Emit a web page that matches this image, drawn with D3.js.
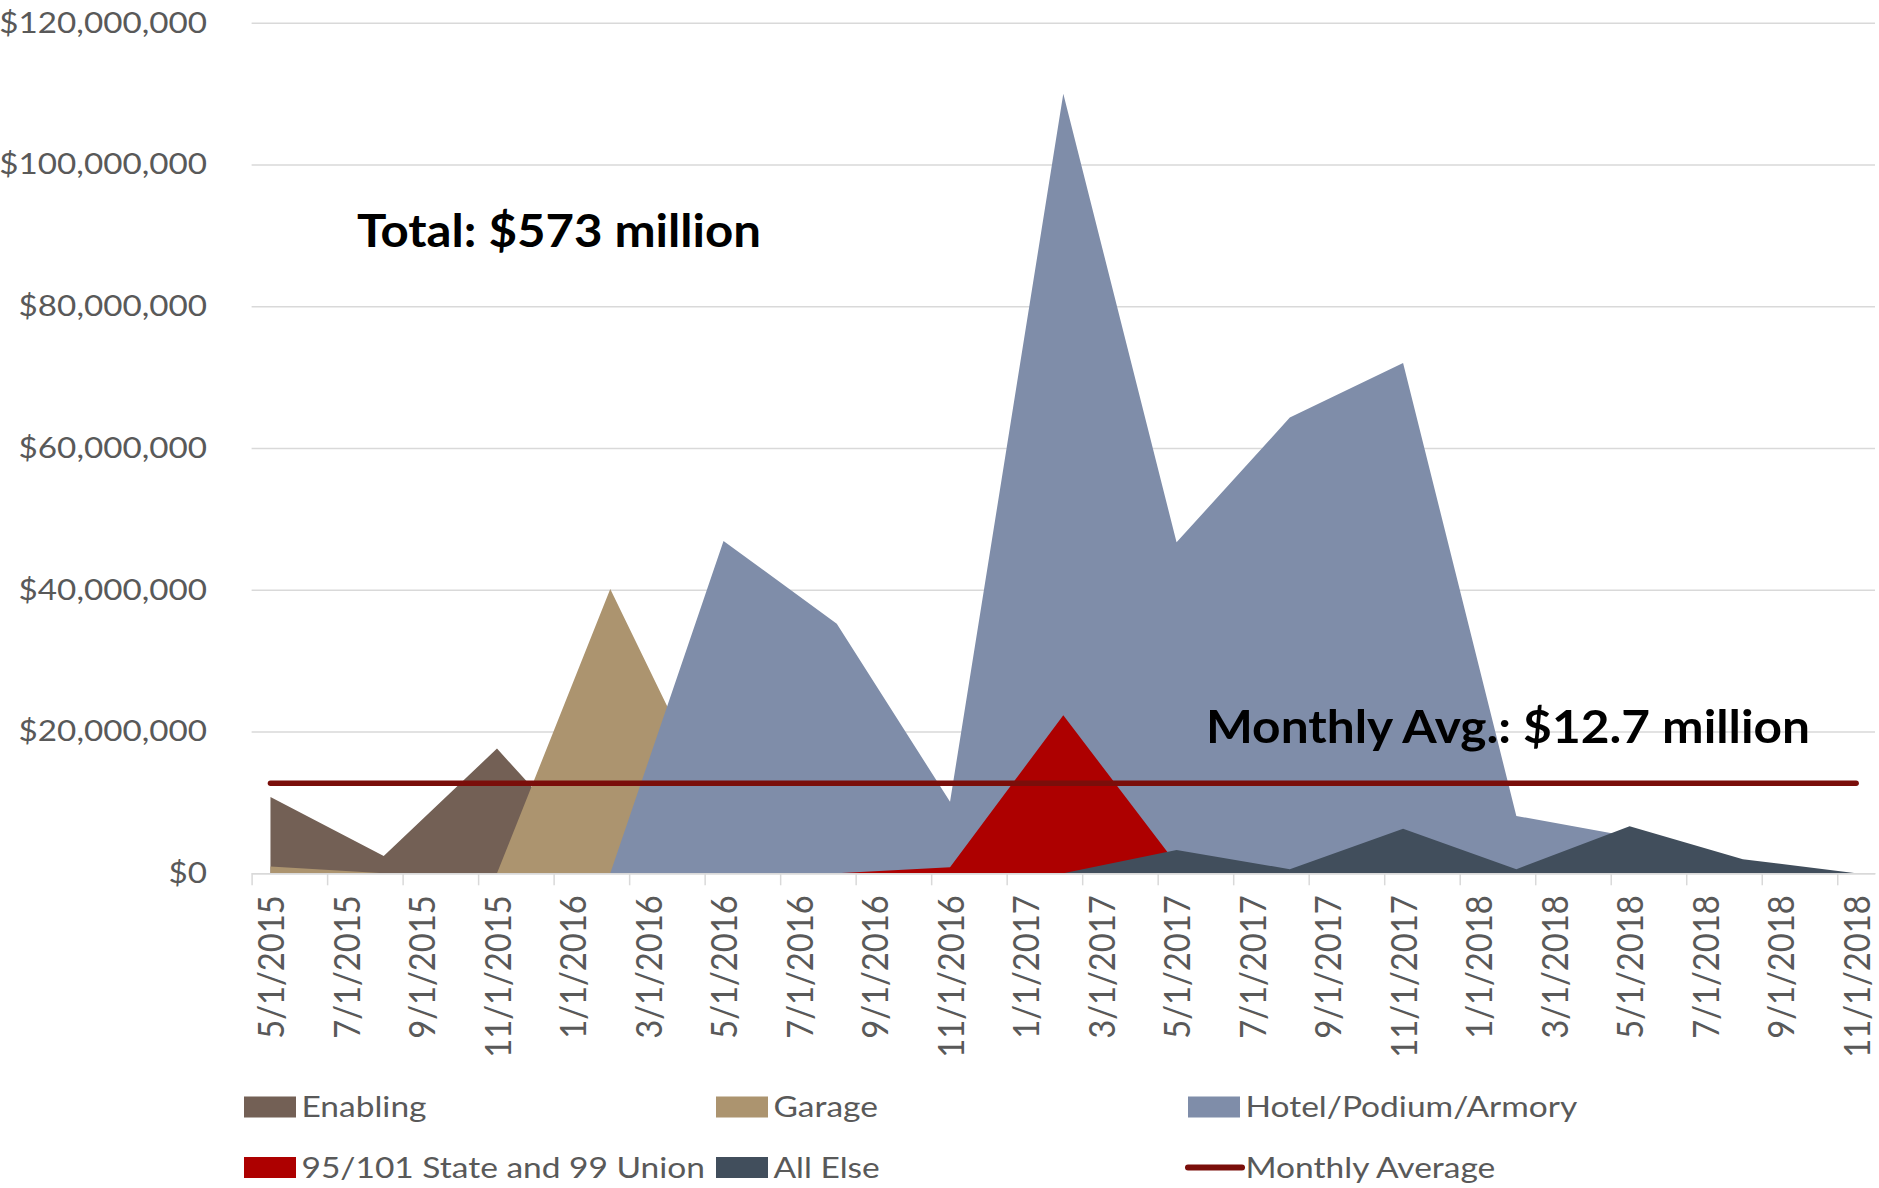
<!DOCTYPE html>
<html>
<head>
<meta charset="utf-8">
<script src="https://cdn.jsdelivr.net/npm/d3@7"></script>
<style>
    body { margin: 0; background: #fff; }
    svg { display: block; }
    text { font-family: Lato, "Open Sans", sans-serif; }
</style>
</head>
<body>
<div id="chart"></div>
<script>
// quarterly spend, in millions of dollars
var dates = ["5/1/2015", "8/1/2015", "11/1/2015", "2/1/2016", "5/1/2016", "8/1/2016", "11/1/2016",
    "2/1/2017", "5/1/2017", "8/1/2017", "11/1/2017", "2/1/2018", "5/1/2018", "8/1/2018", "11/1/2018"];
var enabling = [10.75, 2.45, 17.6, 0, 0, 0, 0, 0, 0, 0, 0, 0, 0, 0, 0];
var garage   = [0.95, 0, 0, 40.1, 7.2, 0, 0, 0, 0, 0, 0, 0, 0, 0, 0];
var hotel    = [0, 0, 0, 0, 46.9, 35.2, 10.1, 110.0, 46.7, 64.3, 72.0, 8.1, 5.2, 0, 0];
var state    = [0, 0, 0, 0, 0, 0, 0.85, 22.3, 1.3, 0, 0, 0, 0, 0, 0];
var allElse  = [0, 0, 0, 0, 0, 0, 0, 0, 3.3, 0.57, 6.27, 0.57, 6.65, 1.98, 0];
var monthlyAvg = 12.7;

var tickLabels = ["5/1/2015", "7/1/2015", "9/1/2015", "11/1/2015", "1/1/2016", "3/1/2016", "5/1/2016",
    "7/1/2016", "9/1/2016", "11/1/2016", "1/1/2017", "3/1/2017", "5/1/2017", "7/1/2017", "9/1/2017",
    "11/1/2017", "1/1/2018", "3/1/2018", "5/1/2018", "7/1/2018", "9/1/2018", "11/1/2018"];
var yTicks = [0, 20, 40, 60, 80, 100, 120];

var seriesNames = ["Enabling", "Garage", "Hotel/Podium/Armory", "95/101 State and 99 Union", "All Else"];
var seriesColors = ["#736055", "#ac946f", "#7f8da9", "#ad0000", "#414e5c"];
var seriesValues = [enabling, garage, hotel, state, allElse];
var avgColor = "#7a0e0a";

var W = 1879, H = 1188;
var plotL = 251.6, plotR = 1875, plotT = 22.8, plotB = 873.3;

var svg = d3.select("#chart").append("svg")
    .attr("width", W)
    .attr("height", H);

var parse = d3.timeParse("%m/%d/%Y");
var start = parse(tickLabels[0]);
function monthIdx(s) { return d3.timeMonth.count(start, parse(s)); }
var nMonths = monthIdx(tickLabels[tickLabels.length - 1]) + 1;

var x = d3.scaleLinear().domain([0, nMonths]).range([plotL, plotR]);
var y = d3.scaleLinear().domain([0, 120]).range([plotB, plotT]);

// widen / narrow text to mimic the stretched look of the original
function stretch(sel, k) {
    sel.each(function() {
        var w = this.getComputedTextLength();
        d3.select(this).attr("textLength", w * k).attr("lengthAdjust", "spacingAndGlyphs");
    });
}

// y axis + gridlines
var yAxis = svg.append("g")
    .attr("transform", "translate(" + plotL + ",0)")
    .call(d3.axisLeft(y)
        .tickValues(yTicks)
        .tickSize(-(plotR - plotL))
        .tickPadding(44.6)
        .tickFormat(function(d) { return "$" + d3.format(",")(d * 1e6); }));
yAxis.select(".domain").remove();
yAxis.selectAll("line").attr("stroke", "#d9d9d9").attr("stroke-width", 1.5);
yAxis.selectAll("text")
    .attr("fill", "#595959")
    .style("font-size", "29px")
    .style("font-family", "Lato");
stretch(yAxis.selectAll("text"), 1.145);

// areas, drawn in series order so later ones cover earlier ones
var area = d3.area()
    .x(function(d) { return x(monthIdx(d.date) + 0.5); })
    .y0(y(0))
    .y1(function(d) { return y(d.v); });

seriesValues.forEach(function(vals, i) {
    var pts = dates.map(function(dt, j) { return {date: dt, v: vals[j]}; });
    svg.append("path")
        .datum(pts)
        .attr("fill", seriesColors[i])
        .attr("d", area);
});

// x axis: tick marks on month boundaries, labels centred in months
var xTicks = svg.append("g")
    .attr("transform", "translate(0," + plotB + ")")
    .call(d3.axisBottom(x)
        .tickValues(d3.range(0, nMonths, 2))
        .tickSize(12)
        .tickSizeOuter(0)
        .tickFormat(""));
xTicks.select(".domain").attr("stroke", "#d9d9d9").attr("stroke-width", 1.5);
xTicks.selectAll("line").attr("stroke", "#d9d9d9").attr("stroke-width", 1.5);

var xLabels = svg.append("g")
    .attr("transform", "translate(0," + plotB + ")")
    .call(d3.axisBottom(x)
        .tickValues(d3.range(0, nMonths, 2).map(function(m) { return m + 0.5; }))
        .tickSize(0)
        .tickFormat(function(d, i) { return tickLabels[i]; }));
xLabels.select(".domain").remove();
xLabels.selectAll("text")
    .attr("transform", "rotate(-90)")
    .attr("x", -22)
    .attr("y", 0)
    .attr("dy", "0.36em")
    .attr("text-anchor", "end")
    .attr("fill", "#595959")
    .style("font-size", "37px")
    .style("font-family", "Lato");
stretch(xLabels.selectAll("text"), 0.885);

// monthly average line
svg.append("line")
    .attr("x1", x(0.5)).attr("x2", x(nMonths - 0.5))
    .attr("y1", y(monthlyAvg)).attr("y2", y(monthlyAvg))
    .attr("stroke", avgColor)
    .attr("stroke-width", 5.5)
    .attr("stroke-linecap", "round");

// annotations
svg.append("text")
    .attr("x", 357).attr("y", 246.5)
    .attr("font-weight", "bold")
    .style("font-size", "46.5px")
    .attr("textLength", 404).attr("lengthAdjust", "spacingAndGlyphs")
    .text("Total: $573 million");

svg.append("text")
    .attr("x", 1206).attr("y", 743.3)
    .attr("font-weight", "bold")
    .style("font-size", "46.5px")
    .attr("textLength", 604).attr("lengthAdjust", "spacingAndGlyphs")
    .text("Monthly Avg.: $" + monthlyAvg + " million");

// legend
var legendItems = seriesNames.map(function(n, i) { return {name: n, color: seriesColors[i], line: false}; });
legendItems.push({name: "Monthly Average", color: avgColor, line: true});
var colX = [244, 716, 1188];
var rowY = [1107, 1167.5];

var leg = svg.append("g").selectAll("g")
    .data(legendItems)
    .enter().append("g")
    .attr("transform", function(d, i) {
        return "translate(" + colX[i % 3] + "," + rowY[Math.floor(i / 3)] + ")";
    });

leg.each(function(d) {
    var g = d3.select(this);
    if (d.line) {
        g.append("line")
            .attr("x1", 0).attr("x2", 54)
            .attr("y1", 0).attr("y2", 0)
            .attr("stroke", d.color)
            .attr("stroke-width", 6)
            .attr("stroke-linecap", "round");
    } else {
        g.append("rect")
            .attr("x", 0).attr("y", -10.5)
            .attr("width", 52).attr("height", 21)
            .attr("fill", d.color);
    }
});

var legText = leg.append("text")
    .attr("x", 57.5)
    .attr("y", 10)
    .attr("fill", "#595959")
    .style("font-size", "29px")
    .text(function(d) { return d.name; });
stretch(legText, 1.155);
</script>
</body>
</html>
